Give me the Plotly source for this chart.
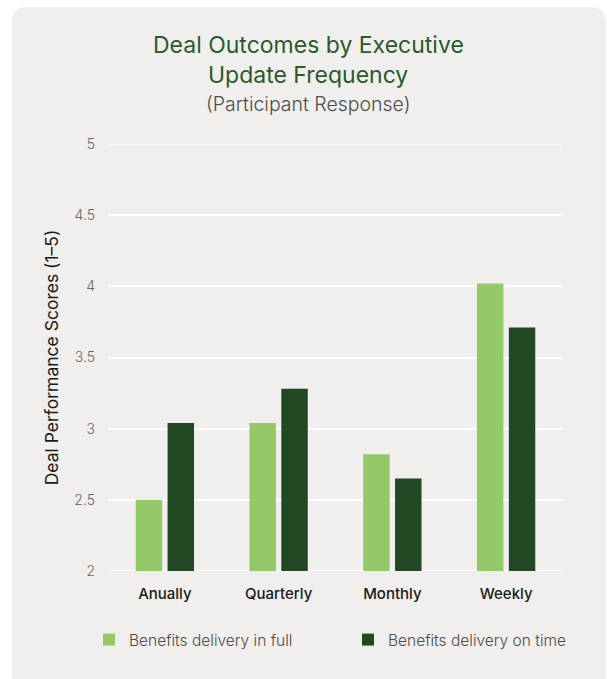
import plotly.graph_objects as go

# Survey results: average deal performance score per update cadence
categories = ["Anually", "Quarterly", "Monthly", "Weekly"]
in_full = [2.5, 3.04, 2.82, 4.02]
on_time = [3.04, 3.28, 2.65, 3.71]
series_names = ["Benefits delivery in full", "Benefits delivery on time"]
y_ticks = [2, 2.5, 3, 3.5, 4, 4.5, 5]
y_tick_text = ["2", "2.5", "3", "3.5", "4", "4.5", "5"]

LIGHT = "#93c966"
DARK = "#1f4823"
CARD = "#f0efed"
FONT = "Inter, Lato, sans-serif"

W, H = 607, 679
ML, MR, MT, MB = 108, 44, 144, 108
plot_h = H - MT - MB


def py(pixel_y):
    """Convert a page pixel row to paper y."""
    return (H - MB - pixel_y) / plot_h


def px(pixel_x):
    return (pixel_x - ML) / (W - ML - MR)


fig = go.Figure()
fig.add_trace(go.Bar(x=categories, y=in_full, name=series_names[0],
                     marker=dict(color=LIGHT, line=dict(width=0))))
fig.add_trace(go.Bar(x=categories, y=on_time, name=series_names[1],
                     marker=dict(color=DARK, line=dict(width=0))))

# rounded card behind the chart, in pixel offsets from the plot area's top-left
r = 15
x0, x1 = 12 - ML, 606 - ML
y_top, y_bot = MT - 7, -(H - MT) - 20
card_path = (f"M {x0},{y_bot} L {x0},{y_top - r} Q {x0},{y_top} {x0 + r},{y_top} "
             f"L {x1 - r},{y_top} Q {x1},{y_top} {x1},{y_top - r} L {x1},{y_bot} Z")
fig.add_shape(type="path", path=card_path, xref="paper", yref="paper",
              xsizemode="pixel", ysizemode="pixel", xanchor=0, yanchor=1,
              fillcolor=CARD, line=dict(width=0), layer="below")

# grid lines on the range ends (plotly skips those in its own grid)
for edge in (y_ticks[0], y_ticks[-1]):
    fig.add_shape(type="line", xref="paper", yref="y", x0=0, x1=1, y0=edge, y1=edge,
                  line=dict(color="white", width=2), layer="below")

fig.add_annotation(text="Deal Outcomes by Executive", x=px(308), y=py(45),
                   xref="paper", yref="paper", showarrow=False, yanchor="middle",
                   font=dict(family=FONT, size=23, color="#2b5a2d"))
fig.add_annotation(text="Update Frequency", x=px(308), y=py(75),
                   xref="paper", yref="paper", showarrow=False, yanchor="middle",
                   font=dict(family=FONT, size=23, color="#2b5a2d"))
fig.add_annotation(text="(Participant Response)", x=px(308), y=py(104),
                   xref="paper", yref="paper", showarrow=False, yanchor="middle",
                   font=dict(family=FONT, size=19.5, color="#4d4d4d", weight=300))

fig.update_layout(
    width=W, height=H,
    margin=dict(l=ML, r=MR, t=MT, b=MB),
    paper_bgcolor="white",
    plot_bgcolor="rgba(0,0,0,0)",
    barmode="group",
    bargap=0.44,
    bargroupgap=0.17,
    font=dict(family=FONT),
    showlegend=True,
    legend=dict(orientation="h", x=px(90), y=py(640), xanchor="left", yanchor="middle",
                bgcolor="rgba(0,0,0,0)", entrywidth=214,
                font=dict(family=FONT, size=15.5, color="#4d4d4d", weight=300)),
)
fig.update_xaxes(showgrid=False, showline=False, zeroline=False, ticks="",
                 ticklabelstandoff=12,
                 tickfont=dict(family=FONT, size=15, color="#1a1a1a", weight=500))
fig.update_yaxes(range=[2, 5], tickvals=y_ticks, ticktext=y_tick_text,
                 showgrid=True, gridcolor="white", gridwidth=2,
                 zeroline=False, showline=False, ticks="", ticklabelstandoff=12,
                 tickfont=dict(family=FONT, size=14, color="#666666", weight=300),
                 title=dict(text="Deal Performance Scores (1–5)", standoff=11,
                            font=dict(family=FONT, size=17.5, color="#1a1a1a")))

fig.write_html("out.html")
